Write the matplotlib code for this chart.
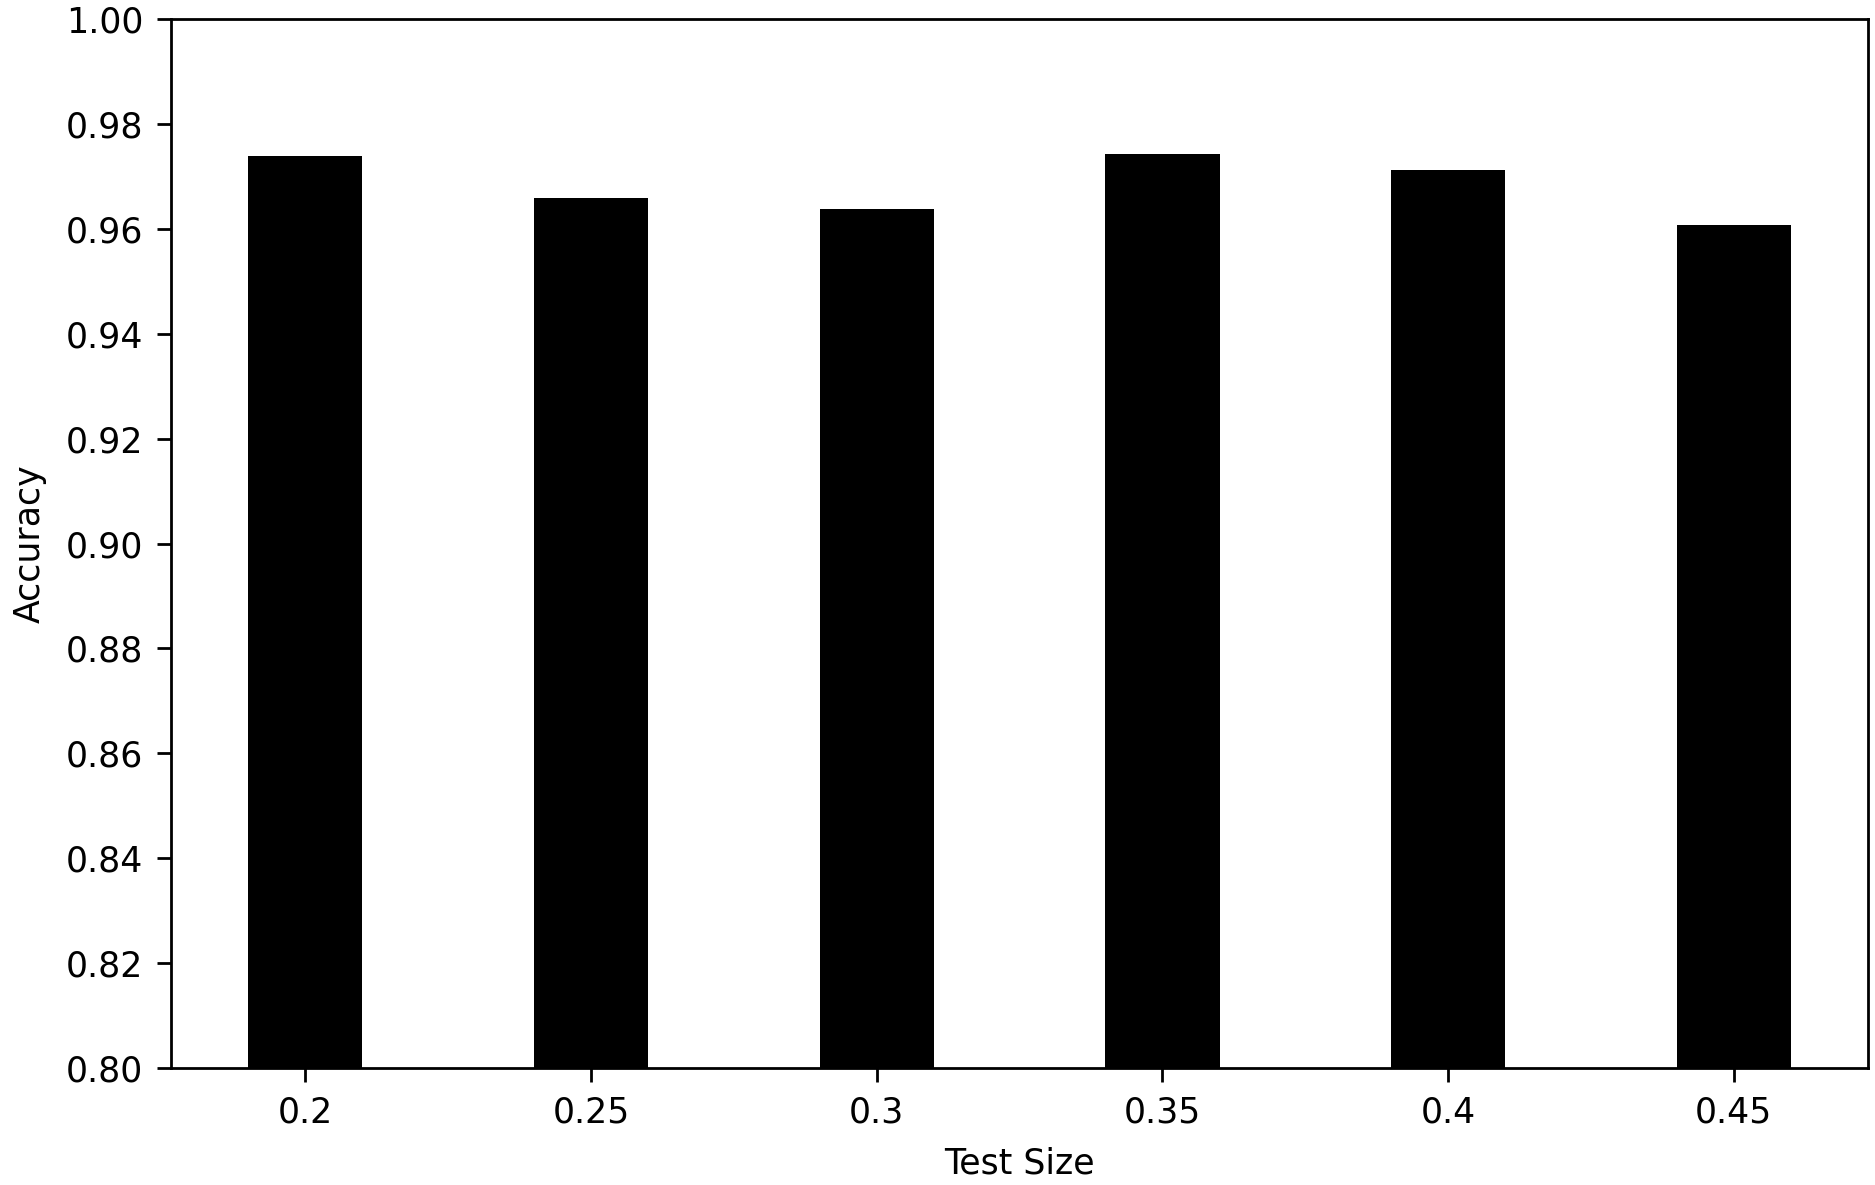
import matplotlib
matplotlib.use("Agg")
import matplotlib.pyplot as plt

# values
test_sizes = ["0.2", "0.25", "0.3", "0.35", "0.4", "0.45"]
accuracy = [0.9738, 0.9658, 0.9637, 0.9743, 0.9713, 0.9608]

plt.rcParams["font.family"] = "DejaVu Sans"
plt.rcParams["font.size"] = 25

fig = plt.figure(figsize=(18.75, 11.85), dpi=100)
ax = fig.add_axes([0.0912, 0.0987, 0.9051, 0.8853])

ax.bar(range(len(test_sizes)), accuracy, width=0.4, color="black")
ax.set_xticks(range(len(test_sizes)))
ax.set_xticklabels(test_sizes)
ax.set_ylim(0.80, 1.00)
ax.set_yticks([0.80, 0.82, 0.84, 0.86, 0.88, 0.90, 0.92, 0.94, 0.96, 0.98, 1.00])
ax.set_yticklabels([f"{v:.2f}" for v in ax.get_yticks()])

ax.set_xlabel("Test Size", labelpad=12)
ax.set_ylabel("Accuracy", labelpad=14)

for s in ax.spines.values():
    s.set_linewidth(2)
ax.tick_params(width=2, length=10, pad=10)

fig.savefig("out.png", dpi=100)
